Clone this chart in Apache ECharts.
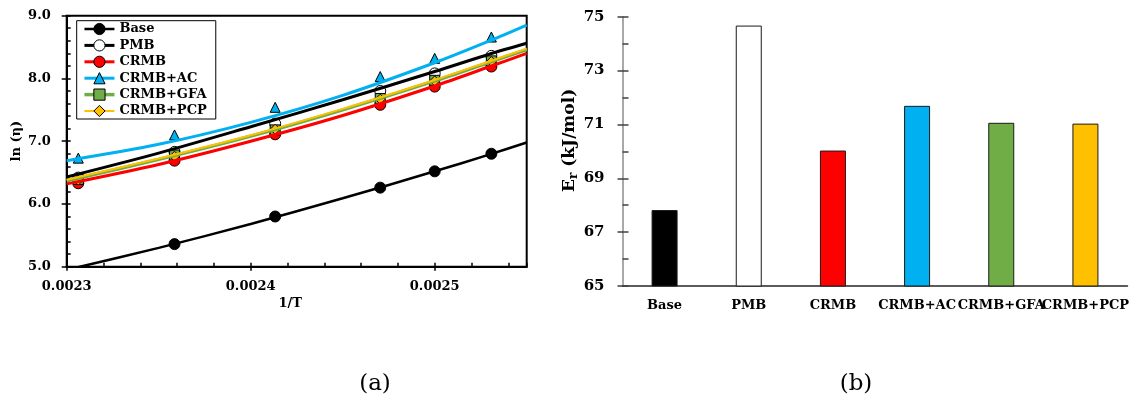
<!DOCTYPE html>
<html><head><meta charset="utf-8">
<script src="https://cdn.jsdelivr.net/npm/echarts@6/dist/echarts.min.js"></script>
<style>html,body{margin:0;padding:0;background:#fff}#c{width:1132px;height:409px}</style>
</head><body><div id="c"></div>
<script>
// ---- data ----
const seriesNames = ['Base', 'PMB', 'CRMB', 'CRMB+AC', 'CRMB+GFA', 'CRMB+PCP'];
// measured points (1/T, ln(eta))
const xPoints = [0.0023063, 0.0023586, 0.0024133, 0.0024704, 0.0025, 0.0025308];
const basePoints = [4.92, 5.36, 5.80, 6.26, 6.52, 6.80];
const pmbPoints = [6.42, 6.83, 7.28, 7.80, 8.08, 8.36];
const crmbPoints = [6.33, 6.69, 7.11, 7.58, 7.87, 8.19];
const acPoints = [6.73, 7.10, 7.54, 8.03, 8.32, 8.66];
const gfaPoints = [6.39, 6.78, 7.18, 7.68, 7.97, 8.28];
const pcpPoints = [6.38, 6.76, 7.19, 7.67, 7.96, 8.27];
// trend lines
const xFit = [0.0023, 0.00235, 0.0024, 0.00245, 0.0025, 0.00253, 0.00255];
const baseFit = [4.95, 5.30, 5.68, 6.09, 6.52, 6.79, 6.98];
const pmbFit = [6.43, 6.81, 7.23, 7.66, 8.11, 8.39, 8.56];
const crmbFit = [6.32, 6.63, 7.00, 7.41, 7.88, 8.19, 8.40];
const acFit = [6.69, 6.95, 7.30, 7.73, 8.25, 8.60, 8.85];
const gfaFit = [6.37, 6.71, 7.08, 7.50, 7.96, 8.26, 8.46];
const pcpFit = [6.385, 6.725, 7.095, 7.515, 7.975, 8.275, 8.475];
// bar chart (b)
const barCategories = ['Base', 'PMB', 'CRMB', 'CRMB+AC', 'CRMB+GFA', 'CRMB+PCP'];
const barValues = [67.82, 74.67, 70.03, 71.69, 71.06, 71.03];
const captions = ['(a)', '(b)'];

// ---- styles ----
const FONT = 'DejaVu Serif';
const looks = [
  {line: '#000000', lw: 2.5, sym: 'circle', size: 11, fill: '#000000'},
  {line: '#000000', lw: 3, sym: 'circle', size: 11, fill: '#ffffff'},
  {line: '#FF0000', lw: 3, sym: 'circle', size: 11, fill: '#FF0000'},
  {line: '#00B0F0', lw: 3, sym: 'triangle', size: 10, fill: '#00B0F0'},
  {line: '#70AD47', lw: 3.5, sym: 'rect', size: 10, fill: '#70AD47'},
  {line: '#FFC000', lw: 2, sym: 'diamond', size: 10, fill: '#FFC000'}
];
const barColors = ['#000000', '#ffffff', '#FF0000', '#00B0F0', '#70AD47', '#FFC000'];
const pointSets = [basePoints, pmbPoints, crmbPoints, acPoints, gfaPoints, pcpPoints];
const fitSets = [baseFit, pmbFit, crmbFit, acFit, gfaFit, pcpFit];

const series = [];
seriesNames.forEach((name, i) => {
  const L = looks[i];
  series.push({
    name, type: 'line', xAxisIndex: 0, yAxisIndex: 0,
    data: xFit.map((x, j) => [x, fitSets[i][j]]),
    smooth: 0.3, showSymbol: false, symbol: L.sym, symbolSize: L.size,
    lineStyle: {color: L.line, width: L.lw},
    itemStyle: {color: L.fill, borderColor: '#000', borderWidth: 1},
    silent: true, animation: false
  });
  series.push({
    name, type: 'scatter', xAxisIndex: 0, yAxisIndex: 0,
    data: xPoints.map((x, j) => [x, pointSets[i][j]]),
    symbol: L.sym, symbolSize: L.size,
    itemStyle: {color: L.fill, borderColor: '#000', borderWidth: 1, opacity: 1},
    silent: true, animation: false
  });
});
series.push({
  type: 'bar', xAxisIndex: 2, yAxisIndex: 2,
  data: barValues.map((v, i) => ({value: v, itemStyle: {color: barColors[i]}})),
  barWidth: 26,
  itemStyle: {borderColor: '#1a1a1a', borderWidth: 1},
  silent: true, animation: false
});

const lbl = (size) => ({fontFamily: FONT, fontWeight: 'bold', fontSize: size, color: '#000'});

const option = {
  animation: false,
  backgroundColor: '#fff',
  grid: [
    {left: 66.7, top: 15.7, width: 460, height: 251, show: true, borderColor: '#000', borderWidth: 2, backgroundColor: 'transparent'},
    {left: 622.5, top: 16.7, width: 506, height: 269.3}
  ],
  legend: {
    orient: 'vertical', left: 76.7, top: 20.7,
    itemWidth: 30, itemHeight: 14, itemGap: 2.4,
    padding: [1.3, 9, 1, 6],
    borderColor: '#000', borderWidth: 1, backgroundColor: '#fff',
    textStyle: Object.assign(lbl(13), {lineHeight: 14}),
    selectedMode: false,
    data: seriesNames.map((n, i) => ({
      name: n,
      itemStyle: {color: looks[i].fill, borderColor: '#000', borderWidth: 1},
      lineStyle: {color: looks[i].line, width: looks[i].lw}
    }))
  },
  xAxis: [
    {
      gridIndex: 0, type: 'value', min: 0.0023, max: 0.00255, interval: 0.0001,
      name: '1/T', nameLocation: 'middle', nameGap: 26,
      nameTextStyle: Object.assign(lbl(13), {padding: [0, 13, 0, 0]}),
      axisLine: {show: true, onZero: false, lineStyle: {color: '#000', width: 2}},
      axisTick: {show: true, inside: false, length: 4, lineStyle: {color: '#000', width: 1.5}},
      axisLabel: Object.assign(lbl(13), {margin: 13, showMaxLabel: false, formatter: v => v.toFixed(4)}),
      splitLine: {show: false}
    },
    {
      gridIndex: 0, type: 'value', min: 0.0023, max: 0.00255, interval: 0.00002, position: 'bottom',
      axisLine: {show: false}, axisLabel: {show: false}, splitLine: {show: false},
      axisTick: {show: true, inside: true, length: 4, lineStyle: {color: '#000', width: 1.5}}
    },
    {
      gridIndex: 1, type: 'category', data: barCategories,
      axisLine: {show: true, lineStyle: {color: '#262626', width: 1.5}},
      axisTick: {show: false},
      axisLabel: Object.assign(lbl(13), {margin: 13, interval: 0}),
      splitLine: {show: false}
    }
  ],
  yAxis: [
    {
      gridIndex: 0, type: 'value', min: 5, max: 9, interval: 1,
      name: 'ln (η)', nameLocation: 'middle', nameGap: 44, nameRotate: 90,
      nameTextStyle: lbl(13),
      axisLine: {show: true, onZero: false, lineStyle: {color: '#000', width: 2}},
      axisTick: {show: true, inside: false, length: 5, lineStyle: {color: '#000', width: 1.5}},
      axisLabel: Object.assign(lbl(13), {margin: 16, formatter: v => v.toFixed(1)}),
      splitLine: {show: false}
    },
    {
      gridIndex: 0, type: 'value', min: 5, max: 9, interval: 0.2, position: 'left',
      axisLine: {show: false}, axisLabel: {show: false}, splitLine: {show: false},
      axisTick: {show: true, inside: true, length: 4, lineStyle: {color: '#000', width: 1.5}}
    },
    {
      gridIndex: 1, type: 'value', min: 65, max: 75, interval: 2,
      name: '{a|E}{s|r}{a| (kJ/mol)}', nameLocation: 'middle', nameGap: 38, nameRotate: 90,
      nameTextStyle: {
        padding: [0, 0, 0, 22],
        rich: {
          a: {fontFamily: FONT, fontWeight: 'bold', fontSize: 17, color: '#000', lineHeight: 20},
          s: {fontFamily: FONT, fontWeight: 'bold', fontSize: 12, color: '#000', lineHeight: 20, padding: [8, 0, 0, 0]}
        }
      },
      axisLine: {show: true, lineStyle: {color: '#8c8c8c', width: 1.5}},
      axisTick: {show: true, inside: false, length: 5, lineStyle: {color: '#404040', width: 1.5}},
      axisLabel: Object.assign(lbl(15), {margin: 18}),
      splitLine: {show: false}
    },
    {
      gridIndex: 1, type: 'value', min: 65, max: 75, interval: 1, position: 'left',
      axisLine: {show: false}, axisLabel: {show: false}, splitLine: {show: false},
      axisTick: {show: true, inside: true, length: 6, lineStyle: {color: '#404040', width: 1.5}}
    }
  ],
  graphic: [
    {type: 'text', x: 375, y: 384, style: {text: captions[0], fontFamily: FONT, fontSize: 23, fill: '#000', align: 'center', verticalAlign: 'middle'}},
    {type: 'text', x: 856, y: 384, style: {text: captions[1], fontFamily: FONT, fontSize: 23, fill: '#000', align: 'center', verticalAlign: 'middle'}}
  ],
  series
};

const chart = echarts.init(document.getElementById('c'), null, {renderer: 'canvas'});
chart.setOption(option);
</script>
</body></html>
